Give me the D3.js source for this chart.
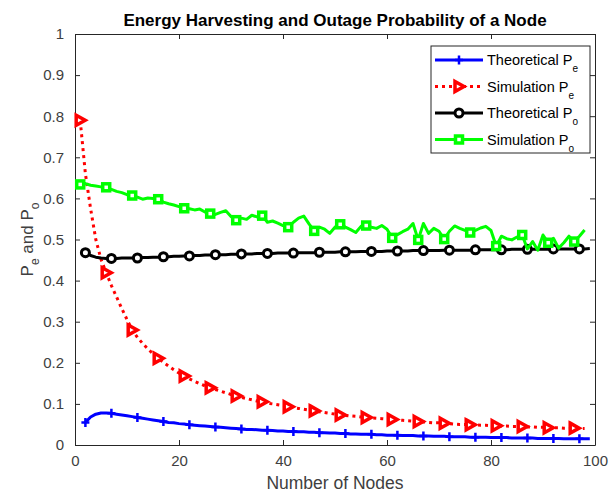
<!DOCTYPE html>
<html><head><meta charset="utf-8">
<script src="https://cdnjs.cloudflare.com/ajax/libs/d3/7.8.5/d3.min.js"></script>
<style>body{margin:0;background:#fff;} svg{display:block;font-family:"Liberation Sans",Arial,sans-serif;}</style>
</head><body><svg id="c" width="609" height="495"></svg>
<script>
const theoN = d3.range(2, 100);   // Theoretical curves: N = 2..99
const simN = d3.range(1, 99);     // Simulation curves: N = 1..98

const theoPe = [0.055,0.068,0.075,0.078,0.078,0.077,0.075,0.073,0.071,0.069,0.067,0.065,0.063,0.061,0.059,0.057,0.055,0.054,0.052,0.051,
0.049,0.048,0.047,0.046,0.045,0.044,0.043,0.042,0.041,0.040,0.039,0.038,0.038,0.037,0.036,0.036,0.035,0.034,0.034,0.033,
0.033,0.032,0.032,0.031,0.031,0.030,0.030,0.029,0.029,0.028,0.028,0.027,0.027,0.026,0.026,0.026,0.025,0.025,0.024,0.024,
0.024,0.023,0.023,0.023,0.022,0.022,0.022,0.021,0.021,0.021,0.020,0.020,0.020,0.020,0.019,0.019,0.019,0.019,0.018,0.018,
0.018,0.018,0.017,0.017,0.017,0.017,0.017,0.016,0.016,0.016,0.016,0.016,0.015,0.015,0.015,0.015,0.015,0.015];

const simPe = [0.790,0.660,0.575,0.500,0.452,0.419,0.388,0.360,0.332,0.305,0.280,0.262,0.247,0.234,0.222,0.211,0.201,0.192,0.183,0.175,
0.168,0.161,0.155,0.149,0.144,0.139,0.135,0.131,0.127,0.123,0.119,0.116,0.113,0.110,0.107,0.105,0.102,0.100,0.098,0.096,
0.093,0.091,0.089,0.087,0.085,0.083,0.081,0.079,0.077,0.075,0.073,0.072,0.071,0.070,0.068,0.067,0.066,0.065,0.064,0.063,
0.062,0.061,0.060,0.059,0.058,0.057,0.056,0.055,0.054,0.054,0.053,0.052,0.051,0.050,0.050,0.049,0.049,0.048,0.048,0.047,
0.047,0.046,0.046,0.045,0.045,0.045,0.044,0.044,0.043,0.043,0.042,0.042,0.042,0.041,0.041,0.041,0.040,0.040];

const theoPo = [0.468,0.461,0.457,0.455,0.454,0.454,0.454,0.455,0.455,0.455,0.455,0.456,0.456,0.457,0.457,0.458,0.458,0.459,0.459,0.460,
0.460,0.461,0.461,0.462,0.462,0.463,0.463,0.463,0.464,0.464,0.465,0.465,0.465,0.466,0.466,0.466,0.466,0.467,0.467,0.467,
0.467,0.468,0.468,0.468,0.468,0.469,0.469,0.469,0.469,0.470,0.470,0.470,0.470,0.471,0.471,0.471,0.471,0.471,0.472,0.472,
0.472,0.472,0.472,0.473,0.473,0.473,0.473,0.473,0.473,0.474,0.474,0.474,0.474,0.474,0.474,0.475,0.475,0.475,0.475,0.475,
0.475,0.475,0.476,0.476,0.476,0.476,0.476,0.476,0.476,0.476,0.477,0.477,0.477,0.477,0.477,0.477,0.477,0.478];

const simPo = [0.634,0.636,0.632,0.630,0.628,0.627,0.622,0.617,0.614,0.609,0.607,0.603,0.598,0.601,0.600,0.598,0.591,0.587,0.584,0.580,
0.576,0.575,0.572,0.574,0.567,0.563,0.561,0.566,0.570,0.556,0.547,0.552,0.549,0.559,0.555,0.558,0.542,0.545,0.540,0.534,
0.530,0.542,0.552,0.557,0.538,0.521,0.530,0.525,0.515,0.530,0.537,0.530,0.524,0.517,0.532,0.534,0.530,0.527,0.534,0.525,
0.504,0.512,0.519,0.525,0.539,0.499,0.539,0.515,0.527,0.520,0.501,0.520,0.533,0.527,0.522,0.517,0.522,0.528,0.532,0.522,
0.484,0.508,0.502,0.499,0.506,0.511,0.477,0.495,0.474,0.511,0.492,0.503,0.479,0.492,0.508,0.495,0.508,0.523];

const xTicks = [0,20,40,60,80,100];
const yTicks = [0,0.1,0.2,0.3,0.4,0.5,0.6,0.7,0.8,0.9,1];
const titleText = "Energy Harvesting and Outage Probability of a Node";
const xLabel = "Number of Nodes";
const legendItems = [
  {name:"Theoretical P", sub:"e", color:"#0000ff", dash:null, marker:"plus"},
  {name:"Simulation P", sub:"e", color:"#ff0000", dash:"3 4", marker:"tri"},
  {name:"Theoretical P", sub:"o", color:"#000000", dash:null, marker:"circle"},
  {name:"Simulation P", sub:"o", color:"#00ff00", dash:null, marker:"square"}
];

const L = 75, R = 595, T = 34, B = 445;
const svg = d3.select("#c");
const x = d3.scaleLinear().domain([0,100]).range([L,R]);
const y = d3.scaleLinear().domain([0,1]).range([B,T]);
const axisCol = "#262626", txtCol = "#404040";

svg.append("rect").attr("x",L).attr("y",T).attr("width",R-L).attr("height",B-T).attr("fill","#fff");

// axes
const ax = svg.append("g").attr("transform",`translate(0,${B})`)
  .call(d3.axisBottom(x).tickValues(xTicks).tickSizeInner(-5).tickSizeOuter(0).tickPadding(10).tickFormat(d3.format("d")));
const axT = svg.append("g").attr("transform",`translate(0,${T})`)
  .call(d3.axisTop(x).tickValues(xTicks).tickSizeInner(-5).tickSizeOuter(0).tickFormat(""));
const ay = svg.append("g").attr("transform",`translate(${L},0)`)
  .call(d3.axisLeft(y).tickValues(yTicks).tickSizeInner(-5).tickSizeOuter(0).tickPadding(11).tickFormat(d=>d===0||d===1?String(d):d3.format(".1f")(d)));
const ayR = svg.append("g").attr("transform",`translate(${R},0)`)
  .call(d3.axisRight(y).tickValues(yTicks).tickSizeInner(-5).tickSizeOuter(0).tickFormat(""));
[ax,axT,ay,ayR].forEach(g=>{
  g.select(".domain").attr("stroke",axisCol).attr("stroke-width",1);
  g.selectAll(".tick line").attr("stroke",axisCol);
  g.selectAll(".tick text").attr("fill",txtCol).attr("font-size",15).attr("font-family","Liberation Sans, Arial, sans-serif");
});

// series
function drawSeries(xs, ys, color, dash, marker){
  const data = xs.map((n,i)=>[n, ys[i]]);
  const line = d3.line().x(d=>x(d[0])).y(d=>y(d[1]));
  svg.append("path").datum(data).attr("d",line).attr("fill","none")
    .attr("stroke",color).attr("stroke-width",3).attr("stroke-dasharray",dash)
    .attr("stroke-linejoin","round");
  const mk = data.filter((d,i)=>i%5===0);
  mk.forEach(d=>drawMarker(svg, x(d[0]), y(d[1]), color, marker));
}
function drawMarker(g, cx, cy, color, marker){
  if(marker==="plus"){
    g.append("path").attr("d",`M${cx-4},${cy}H${cx+4}M${cx},${cy-4.5}V${cy+4.5}`)
      .attr("stroke",color).attr("stroke-width",2.5).attr("fill","none");
  } else if(marker==="tri"){
    g.append("path").attr("d",`M${cx-4},${cy-5}L${cx+5},${cy}L${cx-4},${cy+5}Z`)
      .attr("stroke",color).attr("stroke-width",3.5).attr("fill","#fff").attr("stroke-linejoin","miter");
  } else if(marker==="circle"){
    g.append("circle").attr("cx",cx).attr("cy",cy).attr("r",4)
      .attr("stroke",color).attr("stroke-width",3).attr("fill","#fff");
  } else if(marker==="square"){
    g.append("rect").attr("x",cx-3.5).attr("y",cy-3.5).attr("width",7).attr("height",7)
      .attr("stroke",color).attr("stroke-width",3.5).attr("fill","#fff");
  }
}
drawSeries(theoN, theoPe, "#0000ff", null, "plus");
drawSeries(simN, simPe, "#ff0000", "3 4", "tri");
drawSeries(theoN, theoPo, "#000000", null, "circle");
drawSeries(simN, simPo, "#00ff00", null, "square");

// title & labels
svg.append("text").attr("x",(L+R)/2).attr("y",26).attr("text-anchor","middle")
  .attr("font-size",17).attr("font-weight","bold").attr("fill","#000").text(titleText);
svg.append("text").attr("x",(L+R)/2).attr("y",489).attr("text-anchor","middle")
  .attr("font-size",17.5).attr("fill",txtCol).text(xLabel);
const yl = svg.append("text").attr("transform",`translate(33,${(T+B)/2}) rotate(-90)`)
  .attr("text-anchor","middle").attr("font-size",17).attr("fill",txtCol);
yl.append("tspan").text("P");
yl.append("tspan").attr("font-size",12).attr("dy",6).text("e");
yl.append("tspan").attr("dy",-6).text(" and P");
yl.append("tspan").attr("font-size",12).attr("dy",6).text("o");

// legend
const lg = svg.append("g");
const lx0 = 431, ly0 = 46, lw = 159, lh = 107;
lg.append("rect").attr("x",lx0).attr("y",ly0).attr("width",lw).attr("height",lh)
  .attr("fill","#fff").attr("stroke",axisCol).attr("stroke-width",1);
legendItems.forEach((it,i)=>{
  const cy = 60 + i*26.5;
  lg.append("line").attr("x1",435).attr("x2",483).attr("y1",cy).attr("y2",cy)
    .attr("stroke",it.color).attr("stroke-width",3).attr("stroke-dasharray",it.dash);
  drawMarker(lg, 459, cy, it.color, it.marker);
  const t = lg.append("text").attr("x",487).attr("y",cy+5).attr("font-size",14.5).attr("fill","#000");
  t.append("tspan").text(it.name);
  t.append("tspan").attr("font-size",10).attr("dy",7).text(it.sub);
});
</script></body></html>
